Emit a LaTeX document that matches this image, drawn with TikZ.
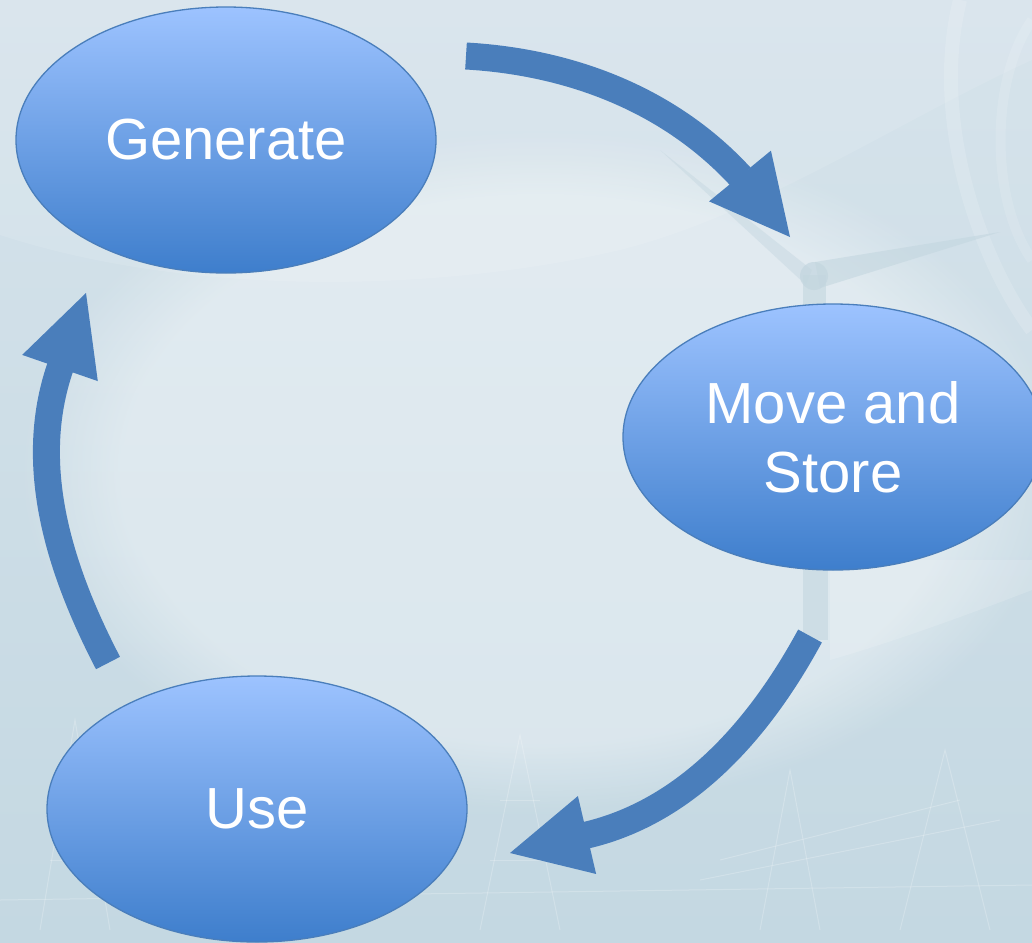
\documentclass[tikz,border=0pt]{standalone}
\usepackage{fontspec}
\setmainfont{Liberation Sans}
\usetikzlibrary{shapes.geometric,calc,fadings}
\definecolor{bgtop}{HTML}{D6E3EB}
\definecolor{bgbot}{HTML}{C4D8E2}
\definecolor{elltop}{HTML}{9DC3FF}
\definecolor{ellbot}{HTML}{3E7ECC}
\definecolor{ellline}{HTML}{4A7EBB}
\definecolor{arrowblue}{HTML}{4A7EBB}
\definecolor{turb}{HTML}{C3D6DF}
\tikzset{
  stage/.style={ellipse, minimum width=420pt, minimum height=266pt, inner sep=0pt,
    top color=elltop, bottom color=ellbot, draw=ellline, line width=1.3pt,
    text=white, align=center, font=\fontsize{58}{69}\selectfont},
  shaft/.style={draw=arrowblue, line width=27pt, line cap=butt},
  head/.style={fill=arrowblue},
  lattice/.style={draw=white, opacity=0.22, line width=1pt}
}
\begin{document}
\begin{tikzpicture}[x=1pt,y=-1pt]
\useasboundingbox (0,0) rectangle (1032,942);
% background
\shade[top color=bgtop, bottom color=bgbot] (0,0) rectangle (1032,942);
\fill[white, fill opacity=0.35, path fading=circle with fuzzy edge 20 percent]
  (540,470) ellipse (520 and 340);
\fill[white, opacity=0.10] (0,0) -- (0,235) .. controls (200,300) and (450,290) .. (620,250)
  .. controls (760,215) and (900,120) .. (1032,60) -- (1032,0) -- cycle;
\fill[white, opacity=0.15] (830,660) .. controls (900,640) and (980,610) .. (1032,590)
  -- (1032,560) -- (830,560) -- cycle;
\draw[white, opacity=0.15, line width=14pt] (960,0) .. controls (930,120) and (980,260) .. (1032,330);
\draw[white, opacity=0.12, line width=10pt] (1032,20) .. controls (990,80) and (990,200) .. (1032,260);
% faint turbine
\fill[turb, opacity=0.6] (803,275) rectangle (826,310);
\fill[turb, opacity=0.6] (803,565) rectangle (828,640);
\fill[turb, opacity=0.6] (815,262) -- (1000,232) -- (820,288) -- cycle;
\fill[turb, opacity=0.45] (812,270) -- (660,150) -- (806,285) -- cycle;
\fill[turb, opacity=0.7] (814,276) circle (14pt);
% faint lattice towers
\draw[lattice] (40,930) -- (75,720) -- (110,930);
\draw[lattice] (50,860) -- (100,860) (58,800) -- (92,800);
\draw[lattice] (480,930) -- (520,735) -- (560,930);
\draw[lattice] (490,860) -- (550,860) (500,800) -- (540,800);
\draw[lattice] (760,930) -- (790,770) -- (820,930);
\draw[lattice] (700,880) -- (1000,820) (720,860) -- (960,800);
\draw[lattice] (900,930) -- (945,750) -- (990,930);
\draw[lattice] (0,900) -- (1032,885);
% stages
\node[stage] (gen) at (226,140) {Generate};
\node[stage] (mov) at (833,437) {Move and\\Store};
\node[stage] (use) at (257,809) {Use};
% arrow ends
\coordinate (s1) at (466,56);  \coordinate (b1) at (740,176); \coordinate (t1) at (790,237);
\coordinate (s2) at (810,636); \coordinate (b2) at (587,835); \coordinate (t2) at (510,853);
\coordinate (s3) at (108,663); \coordinate (b3) at (60,368);  \coordinate (t3) at (86,293);
% arrows
\draw[shaft] (s1) .. controls (571,62) and (670,100) .. ($(b1)!1pt!(t1)$);
\fill[head] (t1) -- ($(b1)!40pt!90:(t1)$) -- ($(b1)!40pt!-90:(t1)$) -- cycle;
\draw[shaft] (s2) .. controls (760.5,727.4) and (688.4,811.3) .. ($(b2)!1pt!(t2)$);
\fill[head] (t2) -- ($(b2)!40pt!90:(t2)$) -- ($(b2)!40pt!-90:(t2)$) -- cycle;
\draw[shaft] (s3) .. controls (60.2,571) and (26,466.3) .. ($(b3)!1pt!(t3)$);
\fill[head] (t3) -- ($(b3)!40pt!90:(t3)$) -- ($(b3)!40pt!-90:(t3)$) -- cycle;
\end{tikzpicture}
\end{document}
